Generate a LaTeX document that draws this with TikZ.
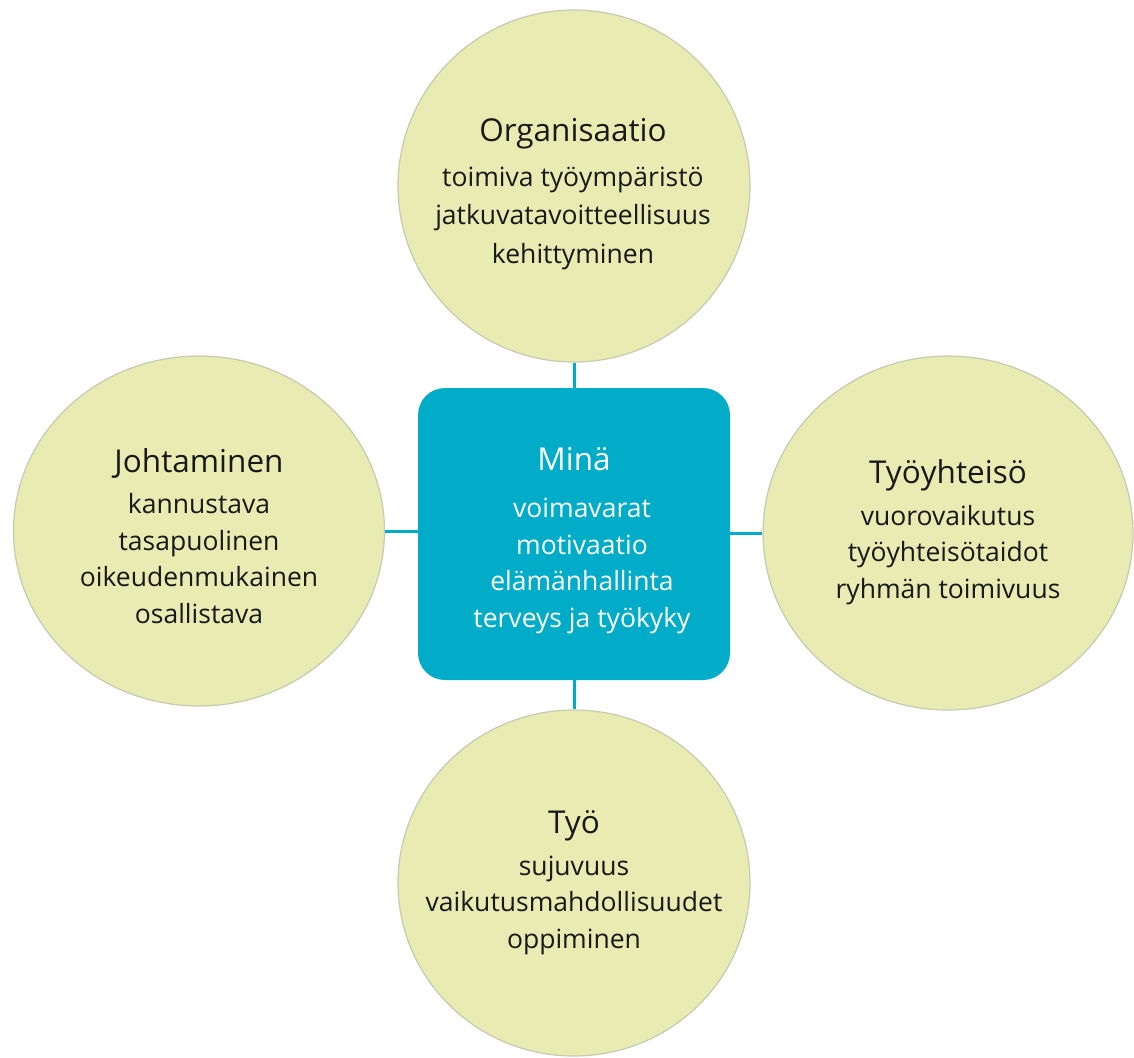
\documentclass[tikz,border=0pt]{standalone}
\usepackage{fontspec}
\setmainfont{Open Sans}
\usetikzlibrary{shapes.geometric}
\definecolor{circfill}{RGB}{232,235,178}
\definecolor{circline}{RGB}{200,202,176}
\definecolor{teal1}{RGB}{0,172,200}
\definecolor{txt}{RGB}{25,25,25}
\newcommand{\ttl}{\fontsize{31.5}{38}\selectfont}
\newcommand{\bdy}{\fontsize{26.5}{36.5}\selectfont}
\begin{document}
\begin{tikzpicture}[x=1pt,y=-1pt,
  bubble/.style={ellipse,fill=circfill,draw=circline,line width=1.2pt,inner sep=0pt},
  bubbletext/.style={anchor=base,align=center,text=txt,inner sep=0pt,font=\bdy},
  centerbox/.style={rectangle,rounded corners=27pt,fill=teal1,draw=none,inner sep=0pt},
  link/.style={draw=teal1,line width=3pt}]
\useasboundingbox (0,0) rectangle (1134,1057);
% circles
\node[bubble,minimum width=352pt,minimum height=352pt] (top) at (574,186) {};
\node[bubble,minimum width=371pt,minimum height=350pt] (left) at (199,531) {};
\node[bubble,minimum width=370pt,minimum height=354pt] (right) at (948,533) {};
\node[bubble,minimum width=352pt,minimum height=346pt] (bottom) at (574,883) {};
% centre box
\node[centerbox,minimum width=312pt,minimum height=292pt] (box) at (574,534) {};
% connectors
\draw[link] (top.south) -- (box.north);
\draw[link] (box.south) -- (bottom.north);
\draw[link] (left.east) -- (left.east -| box.west);
\draw[link] (right.west -| box.east) -- (right.west);
% texts
\node[bubbletext] (toptext) at (573,263) {{\ttl Organisaatio}\\[8pt] toimiva työympäristö\\[2pt] jatkuvatavoitteellisuus\\[2pt] kehittyminen};
\node[bubbletext] (lefttext) at (199,623) {{\ttl Johtaminen}\\[5pt] kannustava\\ tasapuolinen\\ oikeudenmukainen\\ osallistava};
\node[bubbletext] (righttext) at (948,598) {{\ttl Työyhteisö}\\[5pt] vuorovaikutus\\ työyhteisötaidot\\ ryhmän toimivuus};
\node[bubbletext] (bottomtext) at (574,948) {{\ttl Työ}\\[5pt] sujuvuus\\ vaikutusmahdollisuudet\\ oppiminen};
\node[anchor=base,text=white,inner sep=0pt,font=\ttl] (boxtitle) at (574,470) {Minä};
\node[anchor=base,align=center,text=white,inner sep=0pt,font=\bdy] (boxtext) at (582,627) {voimavarat\\ motivaatio\\ elämänhallinta\\ terveys ja työkyky};
\end{tikzpicture}
\end{document}
